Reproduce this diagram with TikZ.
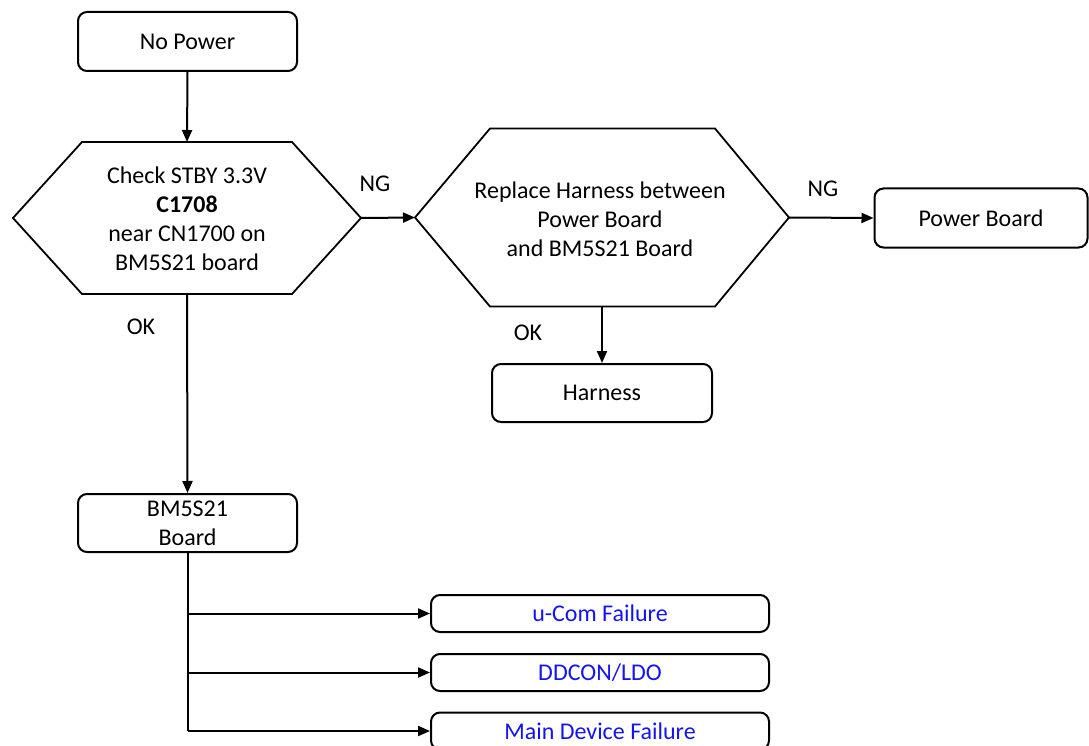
\documentclass[tikz,border=0pt]{standalone}
\usepackage{fontspec}
\setmainfont{Carlito}
\usetikzlibrary{arrows.meta}
\definecolor{linkblue}{RGB}{20,20,240}
\begin{document}
\begin{tikzpicture}[x=1pt,y=-1pt,
  line width=2pt,
  font=\fontsize{24}{29}\selectfont,
  box/.style={draw, rounded corners=9pt, align=center, inner sep=0pt},
  hexline/.style={draw, line width=1.8pt, line join=miter},
  txt/.style={align=center, inner sep=0pt},
  arr/.style={-{Triangle[length=12pt,width=10pt]}},
  lbl/.style={inner sep=0pt}]
\useasboundingbox (0,0) rectangle (1089,746);
% boxes
\node[box, minimum width=219pt, minimum height=59pt] (nopower) at (187.5,41.5) {No Power};
\node[box, minimum width=213pt, minimum height=59pt] (power) at (981,218) {Power Board};
\node[box, minimum width=220pt, minimum height=58pt] (harness) at (602,393) {Harness};
\node[box, minimum width=219pt, minimum height=58pt] (bm) at (187.5,523) {BM5S21\\ Board};
\node[box, minimum width=338pt, minimum height=37pt, text=linkblue] (ucom) at (600,613.5) {u-Com Failure};
\node[box, minimum width=338pt, minimum height=37pt, text=linkblue] (ddcon) at (600,672.5) {DDCON/LDO};
\node[box, minimum width=338pt, minimum height=37pt, text=linkblue] (main) at (600,731) {Main Device Failure};
% hexagon 1
\coordinate (h1w) at (13,218);
\coordinate (h1e) at (361,218);
\coordinate (h1n) at (187,142);
\coordinate (h1s) at (187,294);
\draw[hexline] (h1w) -- (82,142) -- (292,142) -- (h1e) -- (292,294) -- (82,294) -- cycle;
\node[txt] (check) at (187,219) {Check STBY 3.3V\\ \textbf{C1708}\\ near CN1700 on\\ BM5S21 board};
% hexagon 2
\coordinate (h2w) at (415,217.5);
\coordinate (h2e) at (789,217.5);
\coordinate (h2s) at (602,306.5);
\draw[hexline] (h2w) -- (490,128.5) -- (715,128.5) -- (h2e) -- (715,306.5) -- (490,306.5) -- cycle;
\node[txt] (replace) at (600,219) {Replace Harness between\\ Power Board\\ and BM5S21 Board};
% connectors
\draw[arr] (nopower.south) -- (h1n);
\draw[arr] (h1e) -- (h2w);
\draw[arr] (h2e) -- (power.west);
\draw[arr] (h2s) -- (harness.north);
\draw[arr] (h1s) -- (bm.north);
\coordinate (trunk) at (187.5,731);
\draw (bm.south) -- (trunk);
\draw[arr] (bm.south |- ucom.west) -- (ucom.west);
\draw[arr] (bm.south |- ddcon.west) -- (ddcon.west);
\draw[arr] (trunk) -- (main.west);
% labels
\node[lbl] (ng1) at (375,184) {NG};
\node[lbl] (ng2) at (823,189) {NG};
\node[lbl] (ok1) at (141,327) {OK};
\node[lbl] (ok2) at (528,333) {OK};
\end{tikzpicture}
\end{document}
